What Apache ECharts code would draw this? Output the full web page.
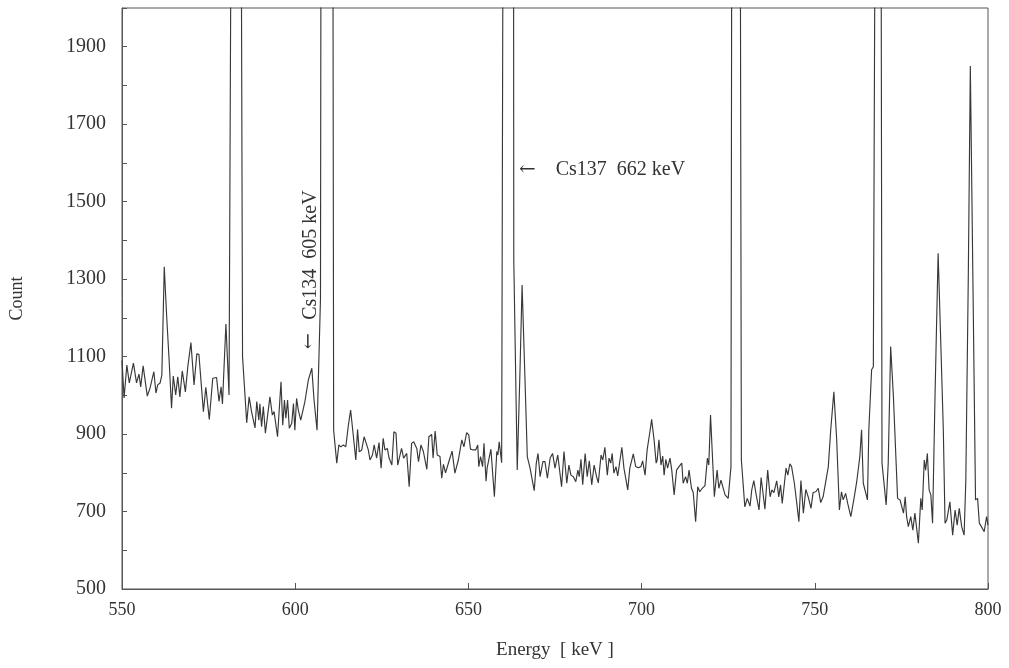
<!DOCTYPE html>
<html>
<head>
<meta charset="utf-8">
<script src="https://cdn.jsdelivr.net/npm/echarts@6/dist/echarts.min.js"></script>
<style>
html,body{margin:0;padding:0;background:#fff;}
#chart{width:1009px;height:668px;}
</style>
</head>
<body>
<div id="chart"></div>
<script>
// Energy (keV) of each sampled point of the spectrum
const energies = [
550.0,550.6,551.4,552.1,553.3,554.2,554.9,555.4,556.1,557.3,558.1,558.6,559.2,559.8,560.3,561.0,561.5,562.2,562.9,563.6,
564.3,564.8,565.5,566.1,566.7,567.4,568.3,569.0,569.4,569.9,570.8,571.6,572.2,573.5,574.2,575.2,576.2,577.3,578.0,578.6,
579.0,580.0,580.9,581.6,582.3,583.0,583.7,584.3,584.8,586.0,586.7,587.4,587.9,588.4,588.9,589.5,589.8,590.3,590.8,591.4,
592.7,593.4,593.9,594.9,595.9,596.4,596.9,597.3,597.8,598.3,599.0,599.5,599.9,600.4,600.9,601.6,602.1,602.8,603.3,603.8,
604.8,605.4,605.7,606.3,607.3,607.7,608.3,609.0,609.7,610.3,610.6,611.1,612.0,612.6,613.2,613.9,614.6,615.3,616.0,616.7,
617.5,618.0,618.5,619.2,619.9,620.4,621.1,621.6,622.3,622.8,623.5,624.2,624.8,625.4,625.9,626.6,627.1,627.9,628.5,629.1,
629.6,630.0,630.7,631.3,632.2,632.9,633.6,634.2,635.1,635.6,636.3,637.0,638.0,638.6,639.4,639.8,640.4,641.0,641.8,642.3,
642.8,643.4,643.9,644.5,645.3,646.1,647.1,648.1,648.7,649.5,650.1,650.6,651.4,652.1,652.7,653.0,653.5,654.1,654.5,655.1,
655.4,655.9,656.5,657.5,658.2,658.5,658.9,659.6,660.2,660.9,661.6,662.3,662.6,663.1,664.1,664.9,665.5,666.4,667.0,667.8,
668.3,669.0,669.6,670.1,670.7,671.5,672.1,672.8,673.6,674.3,675.0,675.8,676.2,676.9,677.6,678.4,679.0,679.6,680.3,681.0,
681.6,682.0,682.5,683.0,683.7,684.3,684.9,685.6,686.3,687.0,687.5,688.3,688.8,689.4,690.1,690.6,691.1,691.5,692.0,692.6,
693.1,693.7,694.3,694.9,695.4,696.0,696.6,697.6,698.3,699.0,699.8,700.3,701.0,701.6,702.4,702.9,703.6,704.2,704.5,705.0,
705.6,706.1,706.5,707.0,707.5,708.2,708.7,709.4,710.1,710.8,711.6,712.0,712.7,713.2,713.7,714.4,714.9,715.6,716.2,716.8,
717.5,718.3,719.0,719.4,719.9,720.5,721.0,721.8,722.3,722.9,723.4,724.1,725.0,725.8,726.3,726.9,727.6,728.1,728.8,729.8,
730.5,731.3,731.8,732.4,733.0,733.5,733.9,734.5,735.0,735.6,736.4,737.1,737.6,738.2,739.0,739.6,740.1,740.6,741.1,741.7,
742.2,742.8,743.3,744.1,744.8,745.4,746.0,746.7,747.4,748.1,748.9,749.5,750.3,751.0,751.7,752.4,752.9,753.9,754.6,755.5,
756.3,757.1,757.7,758.2,758.9,759.5,760.4,761.4,762.1,762.5,763.0,763.5,764.0,764.5,765.2,765.6,766.4,766.9,767.5,768.0,
768.6,769.0,769.4,770.6,771.2,771.9,772.7,773.4,773.9,774.6,775.1,775.6,776.1,776.5,777.0,777.7,778.3,778.9,779.4,779.9,
780.6,781.0,781.6,782.0,782.5,783.0,783.5,784.0,784.7,785.6,786.4,787.1,787.6,788.1,788.5,789.0,789.8,790.5,791.1,791.7,
792.4,793.1,793.6,794.3,794.9,795.7,796.4,797.0,797.5,798.1,798.9,799.6,800.0
];
// Counts at each energy
const counts = [
1090,993,1078,1032,1083,1032,1055,1022,1076,998,1019,1014,1061,1006,1027,1032,1052,1332,1203,1091,
967,1050,1001,1048,996,1063,1009,1074,1078,1136,1027,1107,1106,958,1021,938,1044,1046,984,1022,
978,1184,1001,2500,8000,11000,7000,2600,1100,929,996,958,962,916,984,936,978,919,971,902,
996,949,958,893,1035,923,988,941,988,915,928,979,910,992,962,936,941,984,979,1040,
1070,992,988,910,1250,4000,10000,14000,14000,8000,4000,910,825,872,867,872,867,919,962,902,
833,912,854,859,893,898,859,833,846,872,838,878,812,889,859,863,838,820,906,902,
820,818,863,838,850,764,876,880,863,829,872,855,809,893,899,838,908,846,842,786,
822,800,800,833,856,799,833,885,867,904,898,861,859,859,872,816,842,816,876,778,
812,809,861,738,855,846,880,826,3000,12000,20000,15000,8000,1350,807,1066,1285,1022,842,812,
807,754,825,850,790,829,829,786,838,850,812,846,842,764,855,773,820,794,790,777,
807,790,835,769,850,790,831,769,820,790,774,846,833,866,794,838,825,850,799,816,
792,829,866,812,816,756,812,849,816,813,816,831,794,859,906,938,885,825,833,885,
820,843,794,835,812,838,807,743,807,816,825,773,790,773,807,760,749,674,764,751,
760,767,838,820,949,833,738,807,760,781,783,743,734,816,4000,15000,12000,4000,833,712,
734,714,756,780,747,747,704,788,751,706,807,738,756,749,779,738,769,721,723,812,
794,823,816,773,721,674,780,696,757,738,708,749,751,760,723,738,743,816,911,1009,
889,704,751,730,747,721,687,738,777,777,842,911,773,769,730,911,1066,1074,2500,6000,
5000,3000,825,717,825,1126,996,842,734,730,730,696,738,687,661,687,652,696,700,618,
734,704,833,807,850,756,743,670,996,1367,1126,911,670,678,683,725,639,704,665,708,
661,639,781,1298,1850,1255,730,734,670,661,648,687,665
];
// Axis settings
const xTicks = [550, 600, 650, 700, 750, 800];
const yLabels = [500, 700, 900, 1100, 1300, 1500, 1700, 1900];

const font = '"Liberation Serif", "Times New Roman", serif';
const arrowFont = '"DejaVu Serif", "DejaVu Sans", serif';
const data = energies.map((e, i) => [e, counts[i]]);

const chart = echarts.init(document.getElementById('chart'), null, {renderer: 'canvas'});
chart.setOption({
  animation: false,
  backgroundColor: '#fff',
  grid: {left: 122, right: 21, top: 8, bottom: 79, show: true, borderColor: '#555', borderWidth: 1, containLabel: false},
  xAxis: {
    type: 'value', min: 550, max: 800, interval: 50,
    name: 'Energy  [ keV ]', nameLocation: 'middle', nameGap: 52,
    nameTextStyle: {fontFamily: font, fontSize: 19, color: '#333'},
    axisLine: {show: true, lineStyle: {color: '#555', width: 1}},
    axisTick: {show: true, inside: true, length: 6, lineStyle: {color: '#555'}},
    axisLabel: {fontFamily: font, fontSize: 18, color: '#333', margin: 12,
      formatter: v => xTicks.includes(v) ? String(v) : ''},
    splitLine: {show: false}
  },
  yAxis: {
    type: 'value', min: 500, max: 2000, interval: 100,
    name: 'Count', nameLocation: 'middle', nameGap: 96, nameRotate: 90,
    nameTextStyle: {fontFamily: font, fontSize: 18, color: '#333'},
    axisLine: {show: true, lineStyle: {color: '#555', width: 1}},
    axisTick: {show: true, inside: true, length: 5, lineStyle: {color: '#555'}},
    axisLabel: {fontFamily: font, fontSize: 20, color: '#333', margin: 16,
      formatter: v => yLabels.includes(v) ? String(v) : ''},
    splitLine: {show: false}
  },
  series: [{
    type: 'line',
    data: data,
    symbol: 'none',
    clip: true,
    lineStyle: {color: '#383838', width: 1.15},
    markPoint: {
      symbol: 'circle', symbolSize: 0,
      data: [
        {coord: [664.6, 1582], label: {show: true, formatter: '{a|\u2190}    Cs137  662 keV', position: 'right', distance: 0,
          fontFamily: font, fontSize: 20, color: '#333',
          rich: {a: {fontFamily: arrowFont, fontSize: 20, color: '#333'}}}},
        {coord: [603.7, 1135], label: {show: true, formatter: '{a|\u2193}', position: 'inside',
          fontFamily: font, fontSize: 19, color: '#333',
          rich: {a: {fontFamily: arrowFont, fontSize: 19, color: '#333'}}}},
        {coord: [604.6, 1362], label: {show: true, formatter: 'Cs134  605 keV', position: 'inside', rotate: 90,
          fontFamily: font, fontSize: 20, color: '#333'}}
      ]
    }
  }]
});
</script>
</body>
</html>
